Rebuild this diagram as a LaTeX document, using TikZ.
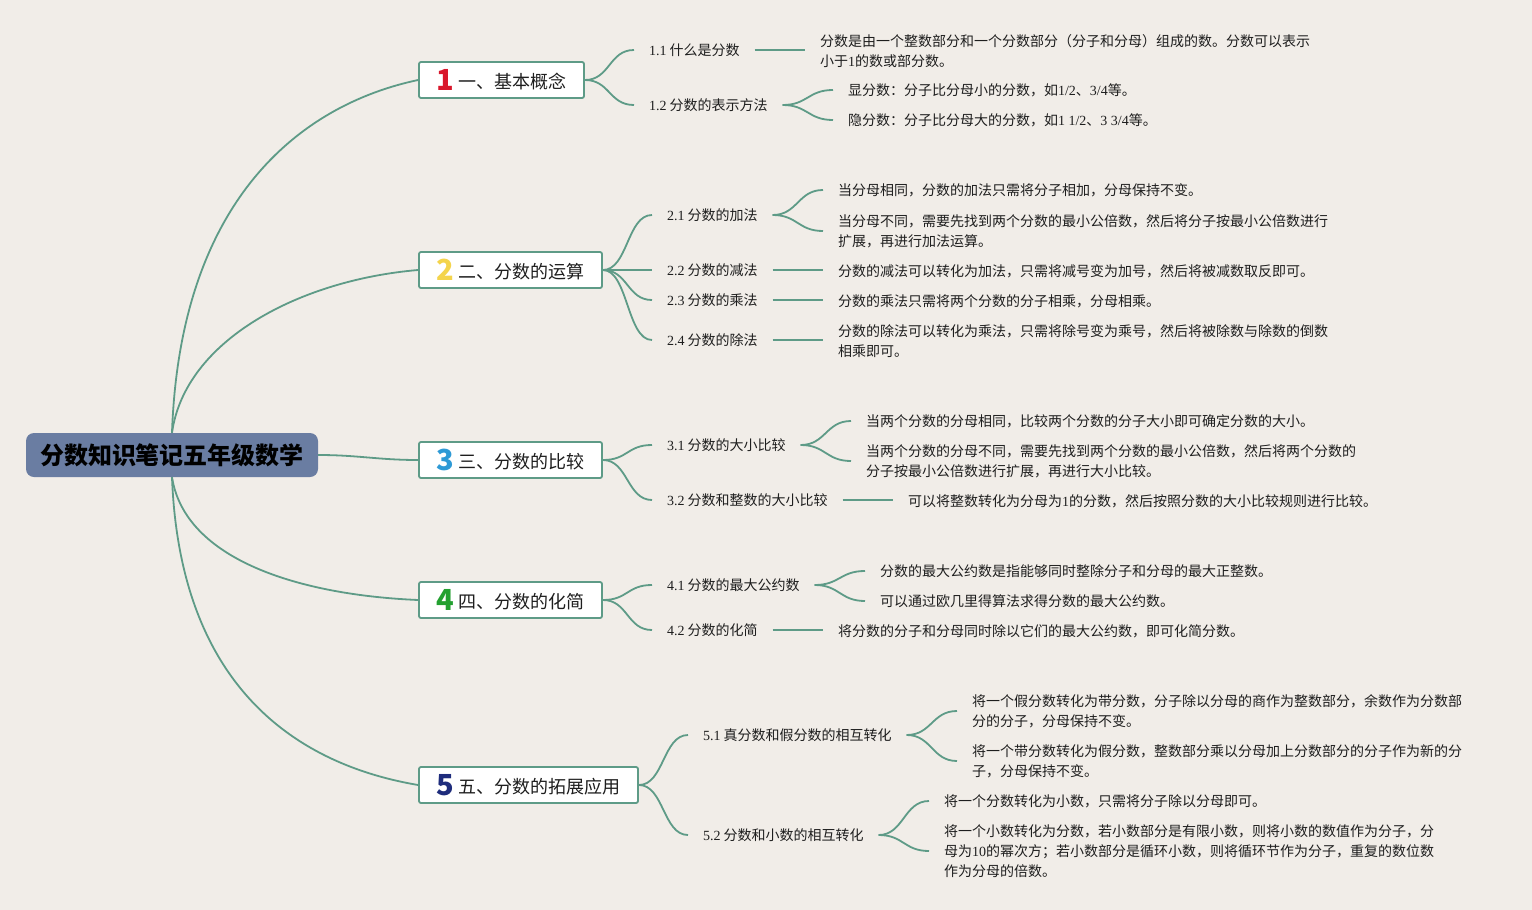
\documentclass[tikz,border=0pt]{standalone}
\usepackage{fontspec}
\setmainfont{Noto Sans CJK SC}
\newfontfamily\ltnfont{Liberation Serif}
\newcommand\mylat[1]{{\ltnfont #1}}
\definecolor{bgc}{HTML}{F1EDE8}
\definecolor{lnc}{HTML}{5E9B87}
\definecolor{rootc}{HTML}{6A7DA2}
\definecolor{txt}{HTML}{1E1E1E}
\definecolor{nA}{HTML}{D9172B}
\definecolor{nB}{HTML}{F4D44C}
\definecolor{nC}{HTML}{2E9AD6}
\definecolor{nD}{HTML}{23A030}
\definecolor{nE}{HTML}{1E2C7C}
\tikzset{
  conn/.style={draw=lnc, line width=1.8pt},
  rootbox/.style={fill=rootc, rounded corners=8pt, minimum width=292pt, minimum height=44pt,
    inner sep=0pt, text=black, font=\fontsize{24}{26}\selectfont\bfseries},
  mainbox/.style={draw=lnc, line width=1.8pt, fill=white, rounded corners=2pt,
    minimum height=36pt, inner sep=0pt, text height=18pt, text depth=2pt, text=txt,
    font=\fontsize{18}{20}\selectfont},
  subt/.style={inner sep=0pt, outer xsep=15pt, anchor=west, text=txt,
    font=\fontsize{14}{20}\selectfont},
  leaf/.style={subt, align=left}
}
\newcommand\bignum[2]{\raisebox{-2pt}{\smash{\fontsize{29}{29}\selectfont\bfseries\color{#1}#2}}\hspace{5pt}}
\begin{document}
\begin{tikzpicture}[x=1pt,y=-1pt]
\fill[bgc] (0,0) rectangle (1532,910);
\useasboundingbox (0,0) rectangle (1532,910);

% root
\node[rootbox] (root) at (172,455) {分数知识笔记五年级数学};

% main boxes
\node[mainbox, minimum width=165pt] (b1) at (501.5,80) {\bignum{nA}{1}一、基本概念};
\node[mainbox, minimum width=183pt] (b2) at (510.5,270) {\bignum{nB}{2}二、分数的运算};
\node[mainbox, minimum width=183pt] (b3) at (510.5,460) {\bignum{nC}{3}三、分数的比较};
\node[mainbox, minimum width=183pt] (b4) at (510.5,600) {\bignum{nD}{4}四、分数的化简};
\node[mainbox, minimum width=219pt] (b5) at (528.5,785) {\bignum{nE}{5}五、分数的拓展应用};

% root connectors
\draw[conn] (root.north) .. controls (180,200) and (300,105) .. (b1.west);
\draw[conn] (root.north) .. controls (185,340) and (300,280) .. (b2.west);
\draw[conn] (root.east) .. controls +(40,0) and +(-40,0) .. (b3.west);
\draw[conn] (root.south) .. controls (185,560) and (300,595) .. (b4.west);
\draw[conn] (root.south) .. controls (180,690) and (300,765) .. (b5.west);

% subtopics
\node[subt] (s11) at (634,50) {\mylat{1.1} 什么是分数};
\node[subt] (s12) at (634,105) {\mylat{1.2} 分数的表示方法};
\node[subt] (s21) at (652,215) {\mylat{2.1} 分数的加法};
\node[subt] (s22) at (652,270) {\mylat{2.2} 分数的减法};
\node[subt] (s23) at (652,300) {\mylat{2.3} 分数的乘法};
\node[subt] (s24) at (652,340) {\mylat{2.4} 分数的除法};
\node[subt] (s31) at (652,445) {\mylat{3.1} 分数的大小比较};
\node[subt] (s32) at (652,500) {\mylat{3.2} 分数和整数的大小比较};
\node[subt] (s41) at (652,585) {\mylat{4.1} 分数的最大公约数};
\node[subt] (s42) at (652,630) {\mylat{4.2} 分数的化简};
\node[subt] (s51) at (688,735) {\mylat{5.1} 真分数和假分数的相互转化};
\node[subt] (s52) at (688,835) {\mylat{5.2} 分数和小数的相互转化};

% box -> subtopic connectors
\foreach \p/\c in {b1/s11,b1/s12,b2/s21,b2/s22,b2/s23,b2/s24,b3/s31,b3/s32,b4/s41,b4/s42,b5/s51,b5/s52}
  \draw[conn] (\p.east) .. controls +(25,0) and +(-25,0) .. (\c.west);

% leaves
\node[leaf] (l11) at (805,51) {分数是由一个整数部分和一个分数部分（分子和分母）组成的数。分数可以表示\\小于\mylat{1}的数或部分数。};
\node[leaf] (l121) at (833,90) {显分数：分子比分母小的分数，如\mylat{1/2}、\mylat{3/4}等。};
\node[leaf] (l122) at (833,120) {隐分数：分子比分母大的分数，如\mylat{1 1/2}、\mylat{3 3/4}等。};
\node[leaf] (l211) at (823,190) {当分母相同，分数的加法只需将分子相加，分母保持不变。};
\node[leaf] (l212) at (823,231) {当分母不同，需要先找到两个分数的最小公倍数，然后将分子按最小公倍数进行\\扩展，再进行加法运算。};
\node[leaf] (l22) at (823,271) {分数的减法可以转化为加法，只需将减号变为加号，然后将被减数取反即可。};
\node[leaf] (l23) at (823,301) {分数的乘法只需将两个分数的分子相乘，分母相乘。};
\node[leaf] (l24) at (823,341) {分数的除法可以转化为乘法，只需将除号变为乘号，然后将被除数与除数的倒数\\相乘即可。};
\node[leaf] (l311) at (851,421) {当两个分数的分母相同，比较两个分数的分子大小即可确定分数的大小。};
\node[leaf] (l312) at (851,461) {当两个分数的分母不同，需要先找到两个分数的最小公倍数，然后将两个分数的\\分子按最小公倍数进行扩展，再进行大小比较。};
\node[leaf] (l32) at (893,501) {可以将整数转化为分母为\mylat{1}的分数，然后按照分数的大小比较规则进行比较。};
\node[leaf] (l411) at (865,571) {分数的最大公约数是指能够同时整除分子和分母的最大正整数。};
\node[leaf] (l412) at (865,601) {可以通过欧几里得算法求得分数的最大公约数。};
\node[leaf] (l42) at (823,631) {将分数的分子和分母同时除以它们的最大公约数，即可化简分数。};
\node[leaf] (l511) at (957,711) {将一个假分数转化为带分数，分子除以分母的商作为整数部分，余数作为分数部\\分的分子，分母保持不变。};
\node[leaf] (l512) at (957,761) {将一个带分数转化为假分数，整数部分乘以分母加上分数部分的分子作为新的分\\子，分母保持不变。};
\node[leaf] (l521) at (929,801) {将一个分数转化为小数，只需将分子除以分母即可。};
\node[leaf] (l522) at (929,851) {将一个小数转化为分数，若小数部分是有限小数，则将小数的数值作为分子，分\\母为\mylat{10}的幂次方；若小数部分是循环小数，则将循环节作为分子，重复的数位数\\作为分母的倍数。};

% forks
\foreach \p/\c in {s12/l121,s12/l122,s21/l211,s21/l212,s31/l311,s31/l312,s41/l411,s41/l412,s51/l511,s51/l512,s52/l521,s52/l522}
  \draw[conn] (\p.east) .. controls +(25,0) and +(-25,0) .. (\c.west);

% straight lines
\foreach \p/\c in {s11/l11,s22/l22,s23/l23,s24/l24,s32/l32,s42/l42}
  \draw[conn] (\p.east) -- (\p.east -| \c.west);
\end{tikzpicture}
\end{document}
